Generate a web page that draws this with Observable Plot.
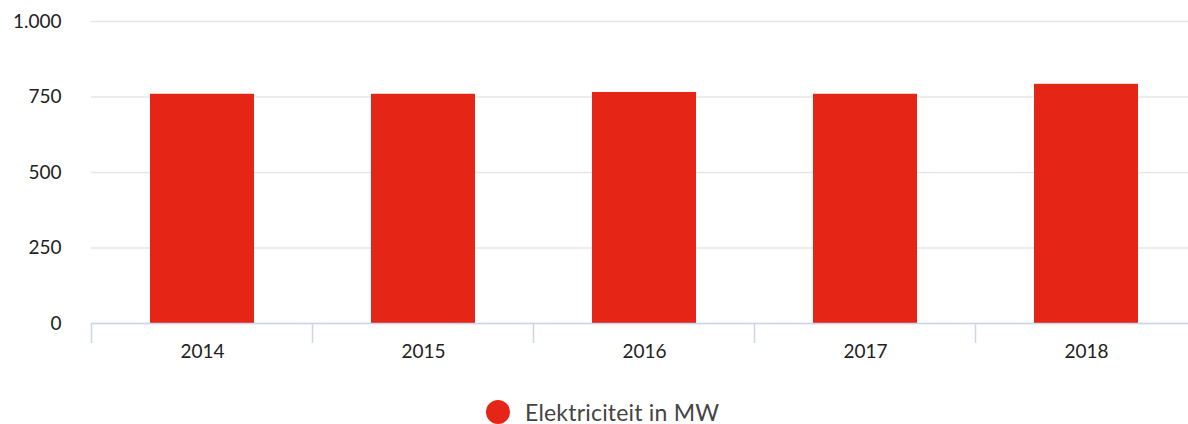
<!DOCTYPE html>
<html>
<head>
<meta charset="utf-8">
<script src="https://cdn.jsdelivr.net/npm/d3@7"></script>
<script src="https://cdn.jsdelivr.net/npm/@observablehq/plot@0.6"></script>
<style>
  html, body { margin: 0; padding: 0; background: #fff; overflow: hidden; width: 1188px; }
  #chart svg { display: block; overflow: hidden; max-width: none !important; }
  #legend { position: relative; height: 52px; font-family: Lato, "Open Sans", sans-serif; }
  #legend .item { position: absolute; left: 486px; top: 26px; display: flex; align-items: center; }
  #legend .dot { width: 24px; height: 24px; border-radius: 50%; background: #e52516; margin-right: 15px; }
  #legend .lbl { font-size: 23px; color: #444; letter-spacing: 0.2px; }
</style>
</head>
<body>
<div id="chart" style="width:1188px;overflow:hidden"></div>
<div id="legend"></div>
<script>
const years = ["2014", "2015", "2016", "2017", "2018"];
const values = [759, 759, 765, 759, 792];
const yTicks = [0, 250, 500, 750, 1000];
const seriesName = "Elektriciteit in MW";
const barColor = "#e52516";

const data = years.map((y, i) => ({ year: y, value: values[i] }));
const nl = d3.formatLocale({ decimal: ",", thousands: ".", grouping: [3], currency: ["€", ""] });
const fmt = nl.format(",");

// band boundary tick marks (Highcharts-style "between" ticks)
function bandTicks(index, scales, vals, dims) {
  const x = scales.x;
  const dom = x.domain();
  const step = typeof x.step === "function" ? x.step() : (x(dom[1]) - x(dom[0]));
  const bw = typeof x.bandwidth === "function" ? x.bandwidth() : 0;
  const y0 = scales.y(0);
  const g = d3.create("svg:g");
  dom.forEach(d => {
    const bx = x(d) - (step - bw) / 2;
    g.append("line")
      .attr("x1", bx).attr("x2", bx)
      .attr("y1", y0).attr("y2", y0 + 20)
      .attr("stroke", "#ccd6eb").attr("stroke-width", 1.5);
  });
  return g.node();
}

const plot = Plot.plot({
  width: 1196,
  height: 372,
  marginLeft: 91,
  marginRight: 0,
  marginTop: 21,
  marginBottom: 49,
  style: { fontFamily: "Lato, 'Open Sans', sans-serif", fontSize: "19px", color: "#222", background: "#fff", maxWidth: "none" },
  x: { domain: years, paddingInner: 0.53, paddingOuter: 0.265, label: null },
  y: { domain: [0, 1000], label: null },
  marks: [
    Plot.gridY(yTicks, { stroke: "#e6e6e6", strokeOpacity: 1, strokeWidth: 1.5 }),
    Plot.barY(data, { x: "year", y: "value", fill: barColor }),
    Plot.ruleY([0], { stroke: "#ccd6eb", strokeWidth: 1.5 }),
    bandTicks,
    Plot.axisX({ tickSize: 0, tickPadding: 21, fontSize: 19, fill: "#222" }),
    Plot.axisY(yTicks, { tickSize: 0, tickPadding: 30, tickFormat: fmt, fontSize: 19, fill: "#222" })
  ]
});
document.getElementById("chart").appendChild(plot);

const legend = document.getElementById("legend");
legend.innerHTML = `<div class="item"><div class="dot"></div><div class="lbl"></div></div>`;
legend.querySelector(".lbl").textContent = seriesName;
legend.querySelector(".dot").style.background = barColor;
</script>
</body>
</html>
